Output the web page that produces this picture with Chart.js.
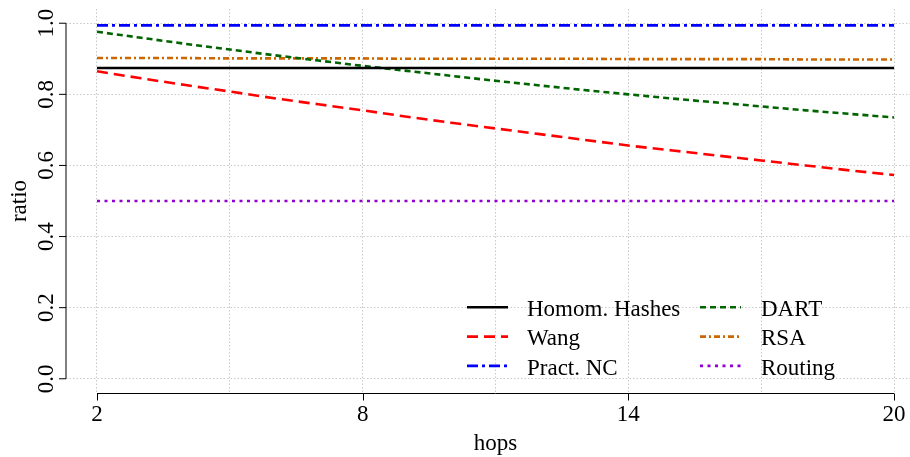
<!DOCTYPE html>
<html>
<head>
<meta charset="utf-8">
<script src="https://cdn.jsdelivr.net/npm/chart.js@4.4.1/dist/chart.umd.min.js"></script>
<style>
    html, body { margin: 0; padding: 0; background: #ffffff; }
    #wrap { width: 910px; height: 457px; }
</style>
</head>
<body>
<div id="wrap"><canvas id="ratioChart" width="910" height="457"></canvas></div>
<script>
// values, one per hop
const hops = [2, 3, 4, 5, 6, 7, 8, 9, 10, 11, 12, 13, 14, 15, 16, 17, 18, 19, 20];
const homomHashes = [0.874, 0.874, 0.874, 0.874, 0.874, 0.874, 0.874, 0.874, 0.874, 0.874, 0.874, 0.874, 0.874, 0.874, 0.874, 0.874, 0.874, 0.874, 0.874];
const wang = [0.865, 0.845, 0.826, 0.808, 0.789, 0.772, 0.755, 0.737, 0.720, 0.704, 0.688, 0.672, 0.656, 0.642, 0.628, 0.614, 0.600, 0.586, 0.573];
const practNC = [0.994, 0.994, 0.994, 0.994, 0.994, 0.994, 0.994, 0.994, 0.994, 0.994, 0.994, 0.994, 0.994, 0.994, 0.994, 0.994, 0.994, 0.994, 0.994];
const dart = [0.976, 0.959, 0.942, 0.926, 0.910, 0.895, 0.880, 0.866, 0.852, 0.838, 0.825, 0.812, 0.800, 0.788, 0.777, 0.766, 0.755, 0.745, 0.735];
const rsa = [0.902, 0.902, 0.902, 0.901, 0.901, 0.901, 0.901, 0.900, 0.900, 0.900, 0.900, 0.900, 0.899, 0.899, 0.899, 0.899, 0.898, 0.898, 0.898];
const routing = [0.5, 0.5, 0.5, 0.5, 0.5, 0.5, 0.5, 0.5, 0.5, 0.5, 0.5, 0.5, 0.5, 0.5, 0.5, 0.5, 0.5, 0.5, 0.5];

const seriesLabels = ['Homom. Hashes', 'Wang', 'Pract. NC', 'DART', 'RSA', 'Routing'];
const xGridTicks = [2, 5, 8, 11, 14, 17, 20];
const xTickLabels = [2, 8, 14, 20];
const yTicks = [0, 0.2, 0.4, 0.6, 0.8, 1.0];
const yTickLabels = ['0.0', '0.2', '0.4', '0.6', '0.8', '1.0'];

const FONT = "'Liberation Serif', 'Times New Roman', serif";
const FONT_SIZE = 23;

function points(values) {
    return hops.map((h, i) => ({ x: h, y: values[i] }));
}

function lineSet(label, values, color, dash) {
    return {
        label: label,
        data: points(values),
        borderColor: color,
        backgroundColor: color,
        borderWidth: 2.6,
        borderDash: dash,
        borderCapStyle: 'butt',
        pointRadius: 0,
        tension: 0,
        fill: false
    };
}

// R style axes: lines only between first and last tick, outward ticks
const rAxes = {
    id: 'rAxes',
    afterDraw(chart) {
        const ctx = chart.ctx;
        const xs = chart.scales.x;
        const ys = chart.scales.y;
        const area = chart.chartArea;
        ctx.save();
        ctx.strokeStyle = '#000000';
        ctx.lineWidth = 1;

        const ax = area.left;
        ctx.beginPath();
        ctx.moveTo(ax, ys.getPixelForValue(yTicks[0]));
        ctx.lineTo(ax, ys.getPixelForValue(yTicks[yTicks.length - 1]));
        yTicks.forEach(v => {
            const py = ys.getPixelForValue(v);
            ctx.moveTo(ax - 7, py);
            ctx.lineTo(ax, py);
        });
        ctx.stroke();

        const ay = area.bottom + 0.5;
        ctx.beginPath();
        ctx.moveTo(xs.getPixelForValue(xTickLabels[0]), ay);
        ctx.lineTo(xs.getPixelForValue(xTickLabels[xTickLabels.length - 1]), ay);
        xTickLabels.forEach(v => {
            const px = Math.round(xs.getPixelForValue(v)) + 0.5;
            ctx.moveTo(px, ay);
            ctx.lineTo(px, ay + 7);
        });
        ctx.stroke();

        // rotated y tick labels
        ctx.fillStyle = '#000000';
        ctx.font = FONT_SIZE + 'px ' + FONT;
        ctx.textAlign = 'center';
        ctx.textBaseline = 'alphabetic';
        yTicks.forEach((v, i) => {
            ctx.save();
            ctx.translate(ax - 13, ys.getPixelForValue(v));
            ctx.rotate(-Math.PI / 2);
            ctx.fillText(yTickLabels[i], 0, 0);
            ctx.restore();
        });

        // x title, centred on the data range
        const mid = (xs.getPixelForValue(hops[0]) + xs.getPixelForValue(hops[hops.length - 1])) / 2;
        ctx.fillText('hops', mid, 450);
        ctx.restore();
    }
};

// two column legend inside the plot, filled column by column
const colLegend = {
    id: 'colLegend',
    afterDatasetsDraw(chart) {
        const ctx = chart.ctx;
        const cols = [{ line: 467, text: 527 }, { line: 700, text: 761 }];
        const rowBase = 316;
        const rowStep = 29.3;
        ctx.save();
        ctx.font = FONT_SIZE + 'px ' + FONT;
        ctx.textAlign = 'left';
        ctx.textBaseline = 'alphabetic';
        chart.data.datasets.forEach((ds, i) => {
            const col = cols[Math.floor(i / 3)];
            const base = rowBase + (i % 3) * rowStep;
            const ly = base - 8.7;
            ctx.beginPath();
            ctx.setLineDash(ds.borderDash || []);
            ctx.lineDashOffset = 0;
            ctx.strokeStyle = ds.borderColor;
            ctx.lineWidth = ds.borderWidth;
            ctx.lineCap = 'butt';
            ctx.moveTo(col.line, ly);
            ctx.lineTo(col.line + 41, ly);
            ctx.stroke();
            ctx.setLineDash([]);
            ctx.fillStyle = '#000000';
            ctx.fillText(ds.label, col.text, base);
        });
        ctx.restore();
    }
};

const gridStyle = {
    color: '#c8c8c8',
    lineWidth: 1,
    drawTicks: false
};

const ctx = document.getElementById('ratioChart').getContext('2d');
new Chart(ctx, {
    type: 'line',
    data: {
        datasets: [
            lineSet(seriesLabels[0], homomHashes, '#000000', []),
            lineSet(seriesLabels[1], wang, '#ff0000', [11, 6]),
            lineSet(seriesLabels[2], practNC, '#0000ff', [11, 4, 3, 4]),
            lineSet(seriesLabels[3], dart, '#006400', [6, 4]),
            lineSet(seriesLabels[4], rsa, '#cc6600', [6, 3, 2, 3]),
            lineSet(seriesLabels[5], routing, '#9400d3', [3, 4.5])
        ]
    },
    options: {
        responsive: false,
        animation: false,
        layout: {
            padding: { top: 9, right: 0, bottom: 0, left: 0 }
        },
        plugins: {
            legend: { display: false },
            tooltip: { enabled: false }
        },
        scales: {
            x: {
                type: 'linear',
                min: 1.3,
                max: 20.36,
                afterBuildTicks: scale => {
                    scale.ticks = xGridTicks.map(v => ({ value: v }));
                },
                afterFit: scale => {
                    scale.height = 64;
                    scale.paddingLeft = 0;
                    scale.paddingRight = 0;
                },
                border: { display: false, dash: [1.5, 2] },
                grid: gridStyle,
                ticks: {
                    autoSkip: false,
                    maxRotation: 0,
                    padding: 8,
                    color: '#000000',
                    font: { family: FONT, size: FONT_SIZE },
                    callback: value => xTickLabels.includes(value) ? String(value) : ''
                }
            },
            y: {
                type: 'linear',
                min: -0.04,
                max: 1.04,
                afterBuildTicks: scale => {
                    scale.ticks = yTicks.map(v => ({ value: v }));
                },
                afterFit: scale => {
                    scale.width = 66;
                    scale.paddingTop = 0;
                    scale.paddingBottom = 0;
                },
                border: { display: false, dash: [1.5, 2] },
                grid: gridStyle,
                ticks: { display: false },
                title: {
                    display: true,
                    text: 'ratio',
                    color: '#000000',
                    padding: { top: 6, bottom: 0 },
                    font: { family: FONT, size: FONT_SIZE }
                }
            }
        }
    },
    plugins: [rAxes, colLegend]
});
</script>
</body>
</html>
